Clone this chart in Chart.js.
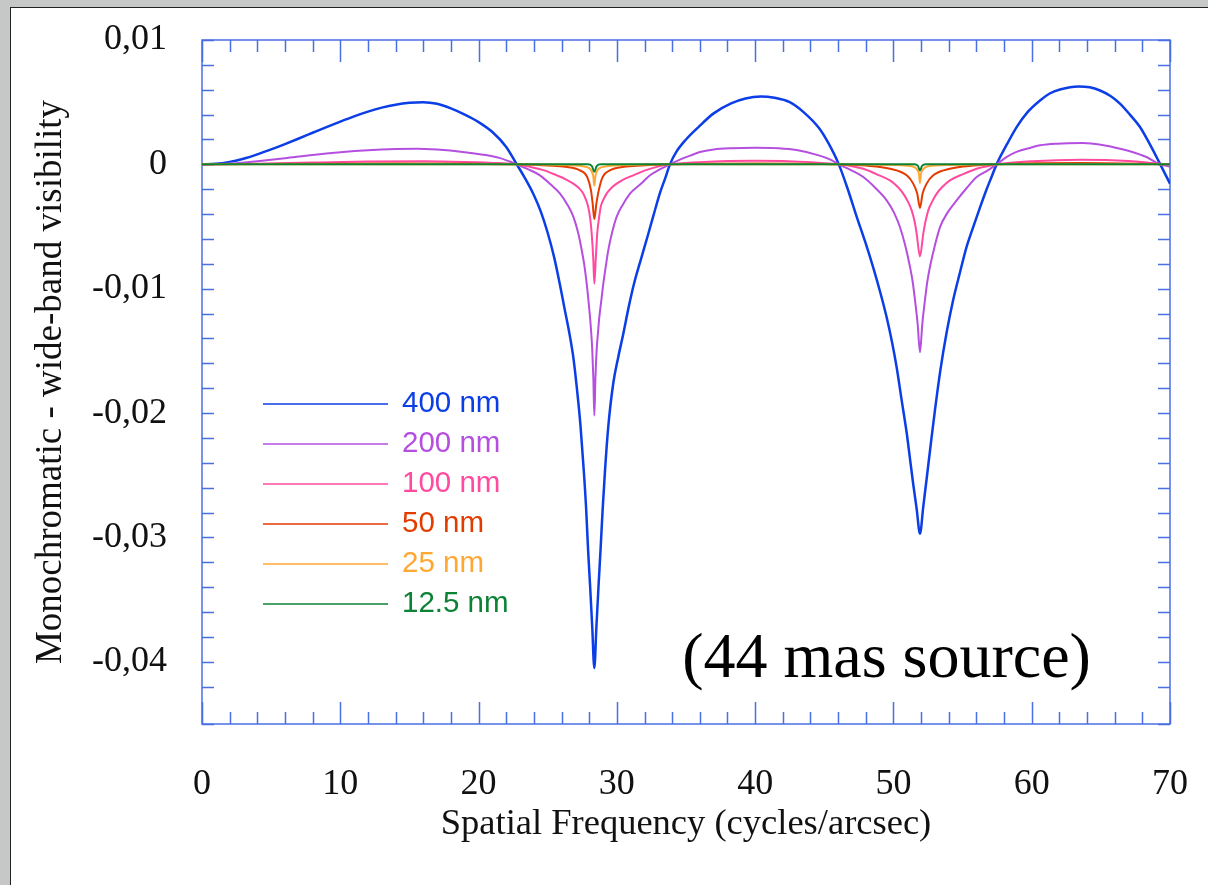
<!DOCTYPE html>
<html>
<head>
<meta charset="utf-8">
<title>Monochromatic - wide-band visibility</title>
<script src="https://cdn.jsdelivr.net/npm/chart.js@4.4.1/dist/chart.umd.min.js"></script>
<style>
  html, body { margin: 0; height: 100%; overflow: hidden; background: #c6c8c8; }
  #sheet { position: absolute; left: 10px; top: 7px; right: 0; bottom: 0; background: #fff;
           border-left: 1px solid #222; border-top: 1px solid #222; }
  #chart { position: absolute; left: 0; top: 0; }
</style>
</head>
<body>
<div id="sheet"></div>
<canvas id="chart" width="1208" height="885"></canvas>
<script>
// spatial frequency (cycles/arcsec) and visibility difference, one pair per bandwidth
const freq400 = [0,1,2,3,4,5,6,7,8,9,10,11,12,13,14,15,16,17,18,19,20,21,22,22.76,
  23.3,23.97,24.5,24.97,25.45,25.87,26.2,26.57,26.85,27.07,27.37,27.6,27.77,27.92,28.07,28.22,28.37,
  28.52,28.67,28.82,28.97,29.15,29.37,29.74,30.1,30.47,30.85,31.24,31.75,32.27,32.7,33.12,33.5,33.84,
  34.3,35,35.9,37,38.26,39.3,40.4,41.4,42.5,43.5,44.63,45.3,46.05,
  46.7,47.34,47.95,48.54,49.05,49.51,49.9,50.23,50.6,50.96,51.2,51.43,51.68,51.92,
  52.16,52.4,52.7,53.01,53.4,53.85,54.3,54.81,55.3,55.78,56.25,56.74,57.1,57.46,
  58.2,58.91,59.7,60.6,61.3,62.04,63.37,64.2,64.94,65.7,66.38,67.1,67.83,68.5,69.15,70];
const vis400 = [0,0.00004,0.0002,0.00045,0.0008,0.0012,0.00163,0.00208,0.00254,0.003,0.00344,0.00386,0.00424,0.00456,0.0048,0.00495,0.005,0.00487,0.0045,0.004,0.0034,0.0026,0.0014,0,
  -0.001,-0.0024,-0.0038,-0.0054,-0.0074,-0.0096,-0.0115,-0.0136,-0.0155,-0.0176,-0.021,-0.0245,-0.0275,-0.031,-0.034,-0.0372,-0.0405,
  -0.0372,-0.034,-0.031,-0.0278,-0.0245,-0.0212,-0.0176,-0.0155,-0.0136,-0.0115,-0.0096,-0.0076,-0.0056,-0.0039,-0.0023,-0.0011,0,
  0.001,0.002,0.003,0.0041,0.0049,0.0053,0.00546,0.00535,0.005,0.0042,0.0029,0.0017,0,
  -0.002,-0.0042,-0.0062,-0.0083,-0.0103,-0.0123,-0.0143,-0.0163,-0.019,-0.0216,-0.0237,-0.0257,-0.0277,-0.0297,
  -0.0275,-0.0253,-0.0225,-0.0197,-0.0165,-0.0135,-0.011,-0.0087,-0.0066,-0.005,-0.0035,-0.002,-0.001,0,
  0.0016,0.003,0.0042,0.00514,0.0057,0.00602,0.00627,0.0062,0.00594,0.0055,0.00488,0.004,0.003,0.0017,0.00032,-0.00155];

const freq200 = [0,2,4,6,8,10,12,14,15.5,17,19,20.5,21.5,22.2,22.76,
  23.6,24.44,25.2,25.89,26.4,26.85,27.2,27.46,27.66,27.82,27.95,28.06,28.15,28.22,28.3,28.37,
  28.45,28.54,28.63,28.73,28.87,29.02,29.2,29.38,29.65,29.99,30.45,30.95,31.7,32.4,33.1,33.84,
  34.6,35.3,36,37,38.3,40,41.7,43,44.6,45.4,46.05,
  47,47.82,48.7,49.51,50.05,50.47,50.85,51.2,51.4,51.56,51.75,51.92,
  52.09,52.28,52.44,52.64,53,53.37,53.9,54.57,55.3,56.02,56.8,57.46,
  58.2,58.9,59.8,60.6,61.8,63.7,65,66.4,67.4,68.3,69.15,70];
const vis200 = [0,0.00006,0.00026,0.0005,0.00076,0.00097,0.00113,0.00123,0.00126,0.00119,0.00098,0.00075,0.00052,0.00025,0,
  -0.0004,-0.00088,-0.0016,-0.00235,-0.0032,-0.0042,-0.0055,-0.0069,-0.0082,-0.0096,-0.011,-0.0123,-0.0136,-0.0149,-0.0172,-0.0202,
  -0.0172,-0.0149,-0.0136,-0.0123,-0.011,-0.0096,-0.0082,-0.0069,-0.0055,-0.0042,-0.0032,-0.00235,-0.0016,-0.00088,-0.0004,0,
  0.0004,0.0007,0.00099,0.0012,0.0013,0.00134,0.0013,0.00115,0.00072,0.0004,0,
  -0.0005,-0.00102,-0.0019,-0.00289,-0.0039,-0.00504,-0.0065,-0.00825,-0.0095,-0.01092,-0.0128,-0.0151,
  -0.0128,-0.01092,-0.0095,-0.00825,-0.0065,-0.00504,-0.0039,-0.00289,-0.0019,-0.00102,-0.0005,0,
  0.0006,0.001,0.0013,0.00153,0.00166,0.00171,0.00158,0.00126,0.00095,0.00059,0.00006,-0.0002];

const freq100 = [0,4,8,12,16,19,21.5,22.76,
  23.72,24.8,25.65,26.3,26.85,27.25,27.57,27.78,27.93,28.08,28.18,28.3,28.37,
  28.47,28.58,28.7,28.83,29,29.26,29.6,29.99,30.5,31.19,32,32.88,33.84,
  36,40,44,46.05,
  47,47.82,48.8,49.75,50.3,50.71,51.05,51.32,51.55,51.68,51.92,
  52.16,52.3,52.52,52.8,53.13,53.55,54.09,55,56.02,56.8,57.46,
  60,63.5,67,69.3,70];
const vis100 = [0,0.00005,0.00015,0.00023,0.00026,0.0002,0.0001,0,
  -0.0002,-0.0005,-0.00088,-0.0012,-0.00155,-0.0019,-0.00235,-0.0029,-0.00343,-0.0044,-0.00557,-0.00771,-0.0096,
  -0.00771,-0.00557,-0.0044,-0.00343,-0.0029,-0.00235,-0.0019,-0.00155,-0.0012,-0.00088,-0.0005,-0.0002,0,
  0.00018,0.0003,0.00018,0,
  -0.00015,-0.00035,-0.0008,-0.00129,-0.0018,-0.00235,-0.003,-0.0037,-0.0047,-0.00557,-0.0074,
  -0.00557,-0.0047,-0.0037,-0.003,-0.00235,-0.0018,-0.00129,-0.0008,-0.00035,-0.00015,0,
  0.00025,0.00038,0.00028,0.00005,0];

const freq50 = [0,8,14,20,22.76, 25,26.3,27.33,27.86,28.13,28.25,28.37,
  28.52,28.69,28.97,29.5,30.5,31.8,33.84, 40,46.05,
  48,49.75,50.96,51.43,51.72,51.92, 52.11,52.4,52.88,54.09,55.8,57.46, 63.5,70];
const vis50 = [0,0.00004,0.00007,0.00004,0, -0.0001,-0.0002,-0.00048,-0.00102,-0.00209,-0.00316,-0.0044,
  -0.00316,-0.00209,-0.00102,-0.00048,-0.0002,-0.0001,0, 0.00007,0,
  -0.0001,-0.00035,-0.00088,-0.00155,-0.00235,-0.0035, -0.00235,-0.00155,-0.00088,-0.00035,-0.0001,0, 0.0001,0];

const freq25 = [0,22.76,26,27.5,28,28.2,28.3,28.37,28.44,28.54,28.74,29.3,30.8,33.84,
  46.05,50,51.3,51.7,51.85,51.92,51.99,52.14,52.55,54,57.46,70];
const vis25 = [0,0,-0.00005,-0.00015,-0.0003,-0.0006,-0.001,-0.0017,-0.001,-0.0006,-0.0003,-0.00015,-0.00005,0,
  0,-0.00005,-0.00015,-0.0004,-0.0008,-0.0015,-0.0008,-0.0004,-0.00015,-0.00005,0,0];

const freq12 = [0,27.9,28.2,28.37,28.54,28.85,51.5,51.77,51.92,52.07,52.35,70];
const vis12 = [0,0,-0.00015,-0.0006,-0.00015,0,0,-0.00012,-0.0005,-0.00012,0,0];

const bandLabels = ['400 nm', '200 nm', '100 nm', '50 nm', '25 nm', '12.5 nm'];
const bandColors = ['#0b3ee6', '#b54fe0', '#ff4aa0', '#e33b00', '#ffa733', '#0c8235'];

const AXIS_BLUE = '#4a6fe3';
const SERIF = '"Liberation Serif", "Times New Roman", serif';

const freqs = [freq400, freq200, freq100, freq50, freq25, freq12];
const visList = [vis400, vis200, vis100, vis50, vis25, vis12];

const datasets = bandLabels.map((label, i) => ({
  label: label,
  data: freqs[i].map((f, j) => ({ x: f, y: visList[i][j] })),
  borderColor: bandColors[i],
  borderWidth: i === 0 ? 2.5 : 2,
  pointRadius: 0,
  cubicInterpolationMode: 'monotone',
  order: 5 - i  // green drawn on top, blue underneath
}));

function isDecade(v, step) {
  return Math.abs(v / step - Math.round(v / step)) < 1e-6;
}

// blue frame with inward ticks on all four sides
const frameTicks = {
  id: 'frameTicks',
  beforeDatasetsDraw(chart) {
    const { ctx, chartArea: a, scales: { x, y } } = chart;
    ctx.save();
    ctx.strokeStyle = AXIS_BLUE;
    ctx.lineWidth = 1.5;
    ctx.beginPath();
    x.ticks.forEach(t => {
      const px = Math.round(x.getPixelForValue(t.value)) + 0.5;
      const len = isDecade(t.value, 10) ? 22 : 12;
      ctx.moveTo(px, a.bottom); ctx.lineTo(px, a.bottom - len);
      ctx.moveTo(px, a.top); ctx.lineTo(px, a.top + len);
    });
    y.ticks.forEach(t => {
      const py = Math.round(y.getPixelForValue(t.value)) + 0.5;
      ctx.moveTo(a.left, py); ctx.lineTo(a.left + 12, py);
      ctx.moveTo(a.right, py); ctx.lineTo(a.right - 12, py);
    });
    ctx.stroke();
    ctx.strokeRect(a.left, a.top, a.right - a.left, a.bottom - a.top);
    ctx.restore();
  }
};

// legend inside the plot plus the source note
const insideLabels = {
  id: 'insideLabels',
  afterDatasetsDraw(chart) {
    const { ctx, chartArea: a, scales: { x, y } } = chart;
    ctx.save();
    ctx.font = '29.5px "Liberation Sans", Arial, sans-serif';
    ctx.textBaseline = 'middle';
    ctx.textAlign = 'left';
    bandLabels.forEach((label, i) => {
      const ly = a.top + 364 + i * 40;
      ctx.strokeStyle = bandColors[i];
      ctx.lineWidth = 1.5;
      ctx.beginPath();
      ctx.moveTo(a.left + 61, ly);
      ctx.lineTo(a.left + 186, ly);
      ctx.stroke();
      ctx.fillStyle = bandColors[i];
      ctx.fillText(label, a.left + 200, ly);
    });
    ctx.font = '64px ' + SERIF;
    ctx.fillStyle = '#000';
    ctx.textAlign = 'center';
    ctx.textBaseline = 'alphabetic';
    ctx.fillText('(44 mas source)', x.getPixelForValue(49.5), y.getPixelForValue(-0.0412));
    ctx.restore();
  }
};

new Chart(document.getElementById('chart').getContext('2d'), {
  type: 'line',
  data: { datasets: datasets },
  options: {
    responsive: false,
    animation: false,
    devicePixelRatio: 1,
    layout: { padding: { top: 40, right: 38, left: 0, bottom: 0 } },
    plugins: { legend: { display: false }, tooltip: { enabled: false } },
    scales: {
      x: {
        type: 'linear',
        min: 0,
        max: 70,
        grid: { display: false },
        border: { display: false },
        ticks: {
          stepSize: 2,
          autoSkip: false,
          maxRotation: 0,
          padding: 31,
          color: '#111',
          font: { family: SERIF, size: 36 },
          callback: v => isDecade(v, 10) ? String(Math.round(v)) : ''
        },
        title: {
          display: true,
          text: 'Spatial Frequency (cycles/arcsec)',
          color: '#111',
          font: { family: SERIF, size: 36.5 },
          padding: { top: 0, bottom: 39 }
        },
        afterFit: s => { s.height = 161; s.paddingLeft = 0; s.paddingRight = 0; }
      },
      y: {
        min: -0.045,
        max: 0.01,
        grid: { display: false },
        border: { display: false },
        ticks: {
          stepSize: 0.002,
          autoSkip: false,
          padding: 27,
          color: '#111',
          font: { family: SERIF, size: 36 },
          callback: v => {
            if (!isDecade(v, 0.01)) return '';
            const n = Math.round(v * 100) / 100;
            return n === 0 ? '0' : n.toFixed(2).replace('.', ',');
          }
        },
        title: {
          display: true,
          text: 'Monochromatic - wide-band visibility',
          color: '#111',
          font: { family: SERIF, size: 37 },
          padding: { top: 29, bottom: 0 }
        },
        afterFit: s => { s.width = 202; s.paddingTop = 0; s.paddingBottom = 0; }
      }
    }
  },
  plugins: [frameTicks, insideLabels]
});
</script>
</body>
</html>
